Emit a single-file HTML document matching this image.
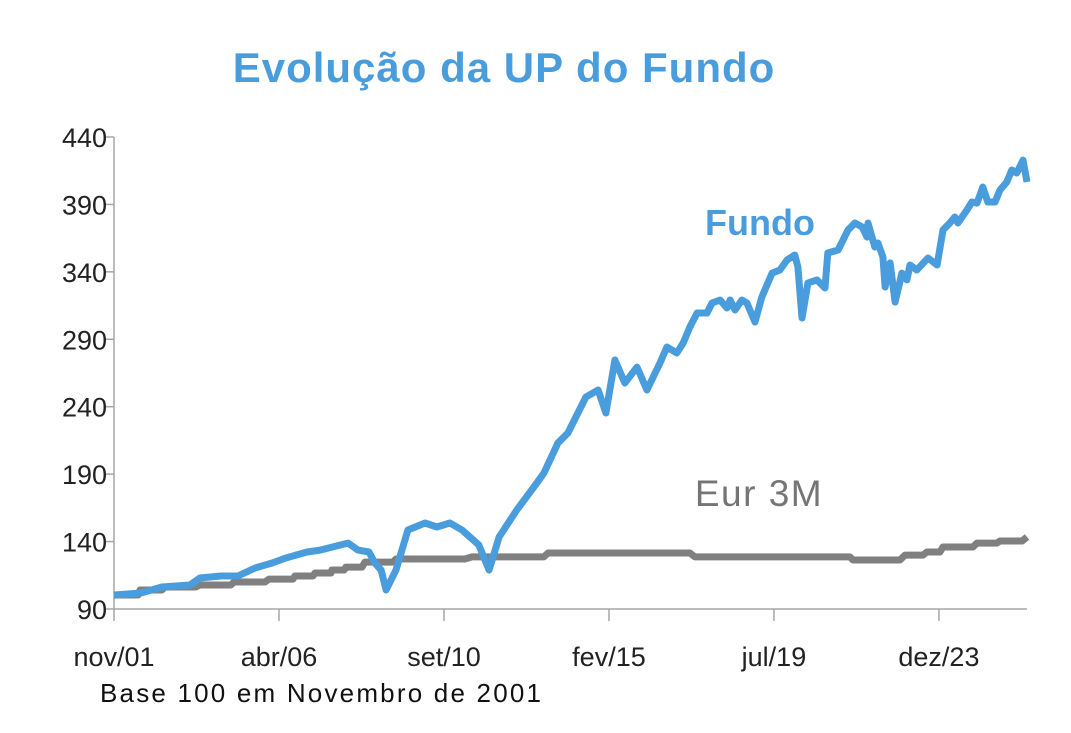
<!DOCTYPE html>
<html><head><meta charset="utf-8"><style>
body{margin:0;background:#fff;}
svg{display:block;font-family:"Liberation Sans",sans-serif;}
</style></head><body>
<svg width="1071" height="733" viewBox="0 0 1071 733">
<text x="504" y="82" text-anchor="middle" font-size="42" font-weight="bold" letter-spacing="1" fill="#4a9ddd">Evolução da UP do Fundo</text>
<g id="axes"></g>
<g id="series"></g>
<text x="760" y="235" text-anchor="middle" font-size="36" font-weight="bold" fill="#4a9ddd">Fundo</text>
<text x="759" y="506" text-anchor="middle" font-size="37" letter-spacing="1.5" fill="#757575">Eur 3M</text>
<text x="100" y="702" font-size="26" letter-spacing="2.2" fill="#111">Base 100 em Novembro de 2001</text>
</svg>
<script>
const yTicks=[90,140,190,240,290,340,390,440];
const xTickLabels=["nov/01","abr/06","set/10","fev/15","jul/19","dez/23"];
const xTickMonths=[0,53,106,159,212,265];
const fundoMonths=[0,8.7,15.4,24.4,27.6,34.4,39.8,45.3,50.8,55.2,62.0,66.2,72.9,75.2,78.4,81.9,83.8,85.8,87.4,90.6,94.4,99.9,103.7,107.9,111.8,117.2,120.5,123.7,129.4,134.9,138.1,142.6,145.8,151.6,155.5,158.0,160.9,164.1,168.0,171.2,175.4,177.6,180.8,182.8,185.0,187.3,190.5,192.1,194.7,196.9,197.9,199.5,201.7,203.3,205.9,208.1,211.4,213.9,216.2,218.7,219.7,221.0,222.9,225.8,228.4,229.3,232.6,234.2,235.8,238.0,240.3,241.9,242.2,244.4,245.4,247.0,247.7,249.3,250.9,253.1,254.7,255.7,257.9,261.5,264.4,266.3,268.5,270.1,271.1,274.0,275.6,277.2,278.2,279.1,280.7,283.0,284.6,286.8,288.4,290.0,292.0,293.3];
const fundoValues=[100.4,101.9,106.3,107.8,113.0,114.5,114.5,120.4,124.1,127.8,132.3,133.7,137.5,138.9,133.7,132.3,124.1,118.9,104.1,118.9,148.6,153.8,150.8,153.8,148.6,137.5,118.9,143.4,163.4,180.5,190.8,213.1,220.5,247.2,252.4,235.3,274.6,257.6,269.4,252.4,272.4,284.3,279.8,287.2,299.1,309.5,309.5,316.9,319.1,313.2,319.1,311.7,319.1,316.9,302.8,321.3,339.1,341.4,348.8,352.5,343.6,305.8,331.7,334.0,328.0,354.0,356.2,363.6,371.0,376.2,373.3,365.8,376.2,358.4,361.4,351.0,328.8,346.6,317.6,339.1,334.0,345.1,341.4,350.3,345.1,371.0,376.2,380.7,376.2,385.9,391.8,391.0,397.0,402.9,391.8,391.8,400.7,406.6,415.5,413.3,422.9,406.6];
const eurMonths=[0,7.7,8.4,15.4,16.4,26.3,27.6,37.6,38.5,48.5,49.8,57.5,58.1,63.9,64.6,69.7,70.0,73.9,74.5,79.7,80.6,89.6,90.6,112.7,115.0,138.1,139.4,185.0,186.6,236.4,237.4,252.5,254.1,259.9,261.1,265.3,266.3,275.9,277.2,283.6,284.6,291.7,293.3];
const eurValues=[100.4,100.4,104.1,104.1,106.3,106.3,107.8,107.8,110.0,110.0,112.2,112.2,114.5,114.5,116.7,116.7,118.9,118.9,121.1,121.1,124.8,124.8,127.1,127.1,128.6,128.6,131.5,131.5,128.6,128.6,126.3,126.3,130.0,130.0,132.3,132.3,136.0,136.0,138.9,138.9,140.4,140.4,143.4];
const NS="http://www.w3.org/2000/svg";
function xS(m){return 114+m*3.113;}
function yS(v){return 609-(v-90)*1.3486;}
function mk(tag,attrs,parent){const e=document.createElementNS(NS,tag);for(const k in attrs)e.setAttribute(k,attrs[k]);parent.appendChild(e);return e;}
const axes=document.getElementById('axes');
let yl=mk('line',{x1:114,y1:yS(440),x2:114,y2:609,stroke:'#a6a6a6','stroke-width':1.5},axes);


let xl=mk('line',{x1:114,y1:609,x2:1027,y2:609,stroke:'#a6a6a6','stroke-width':1.5},axes);


yTicks.forEach(v=>{
 const t=mk('line',{x1:105,y1:yS(v),x2:114,y2:yS(v),stroke:'#a6a6a6','stroke-width':1.5},axes);
 
 
 const l=mk('text',{x:107,y:yS(v)+10,'text-anchor':'end','font-size':27,fill:'#222',transform:'scale(1,1)'},axes);
 l.textContent=v;
 
 
});
xTickMonths.forEach((m,i)=>{
 const t=mk('line',{x1:xS(m),y1:609,x2:xS(m),y2:621,stroke:'#a6a6a6','stroke-width':1.5},axes);
 
 
 const l=mk('text',{x:xS(m),y:666,'text-anchor':'middle','font-size':27,fill:'#222'},axes);
 l.textContent=xTickLabels[i];
 
 
});
const series=document.getElementById('series');
function pts(ms,vs){return ms.map((m,i)=>xS(m).toFixed(1)+','+yS(vs[i]).toFixed(1)).join(' ');}
const eur=mk('polyline',{points:pts(eurMonths,eurValues),fill:'none',stroke:'#808080','stroke-width':7,'stroke-linejoin':'round'},series);


const fundo=mk('polyline',{points:pts(fundoMonths,fundoValues),fill:'none',stroke:'#4a9ddd','stroke-width':7,'stroke-linejoin':'round'},series);


</script>
</body></html>
